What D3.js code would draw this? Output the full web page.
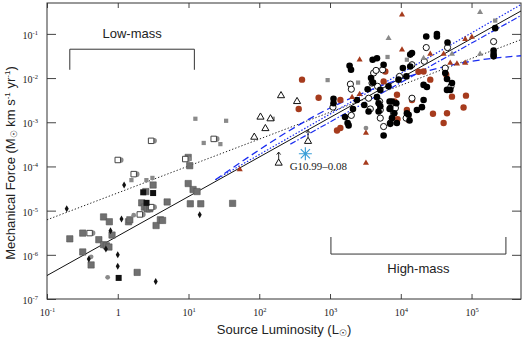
<!DOCTYPE html>
<html>
<head>
<meta charset="utf-8">
<script src="https://d3js.org/d3.v7.min.js"></script>
<style>
body { margin: 0; background: #fff; }
text { fill: #222; }
</style>
</head>
<body>
<svg width="525" height="343"></svg>
<script>
// ---- data : [luminosity (Lsun), force (Msun km/s/yr)] ----
var blackCircles = [[1890,0.019],[1980,0.0154],[1120,3.4e-3],[1120,2.7e-3],[1630,1.31e-3],[1770,9.6e-4],[1830,8.5e-4],
  [2110,2.0e-3],[2400,3.2e-3],[3400,5.6e-3],[3510,1.75e-3],[4000,0.026],[4610,0.028],[4050,7.9e-3],[4610,3.7e-3],
  [4860,1.75e-3],[3050,2.45e-3],[3800,0.01],[5130,5.4e-3],[9300,9.2e-3],[10700,0.0168],[12000,0.0109],[7500,2.96e-3],
  [7100,2.1e-3],[8800,9.6e-4],[4860,2.7e-3],[6700,6.5e-3],[22900,0.087],[32400,0.099],[32400,0.087],[45800,0.064],
  [216000,0.135],[205000,0.042],[205000,0.035],[205000,0.031],[14400,0.037],[42500,0.013],[45000,9.5e-3],[52900,7.7e-3],
  [21000,7.0e-3],[23400,6.3e-3],[13600,0.0183],[13600,0.034],[5130,2.3e-3],[5720,5.0e-4],[6950,2.0e-3],[7500,1.24e-3],
  [7100,9.2e-4],[8100,1.6e-3],[8640,2.7e-3],[12200,1.6e-3],[12900,1.48e-3],[13300,1.1e-3],[16900,1.9e-3],[19900,2.2e-3],
  [6950,2.96e-3],[50000,5.4e-3],[45000,5.4e-3],[21000,3.2e-3],[5720,0.02]];
var openCircles = [[1940,7.3e-3],[2000,5.6e-3],[1100,2.2e-3],[2000,1.43e-3],[4130,0.013],[4470,0.0149],[4700,6.5e-3],
  [3710,2.0e-3],[3510,3.5e-3],[5020,2.96e-3],[5530,0.0154],[3920,7.7e-3],[9600,0.0109],[7900,1.6e-3],[7100,9.6e-4],
  [5720,8.0e-4],[5130,1.9e-3],[22900,0.049],[45800,0.049],[205000,0.067],[14400,0.02],[21500,0.024],[42500,0.0168],
  [51200,6.5e-3],[5130,1.24e-3],[8400,2.1e-3],[11900,1.24e-3],[14400,3.5e-3]];
var redCircles = [[402,9.2e-3],[690,3.6e-3],[361,2.0e-3],[1400,3.2e-3],[1255,6.5e-4],[1400,7.4e-4],[8840,4.2e-3],
  [12200,1.9e-3],[12900,1.14e-3],[8170,2.96e-3],[5720,8.4e-3],[21000,0.0141],[26100,9.2e-3],[43900,0.0119],[9010,1.18e-3],
  [28500,1.56e-3],[45000,1.6e-3],[77100,2.16e-3],[40300,9.6e-4],[14400,3.2e-3],[83400,4.0e-3],[52900,3.8e-3],
  [6040,0.0141],[17800,0.0139]];
var redTriangles = [[53,8.5e-5],[3220,5.7e-4],[3220,1.19e-4],[2620,0.026],[2050,3.7e-3],[2620,4.3e-3],[10400,0.27],
  [10400,0.044],[81500,0.076],[101000,0.085],[26100,0.035],[40300,0.035],[50000,0.0218],[62200,0.021],[81500,0.0218]];
var greyTriangles = [[132000,0.31],[6720,0.08],[21000,0.028],[52900,0.035],[132000,0.035]];
var greySmall = [[925,9.0e-3],[2490,7.9e-3],[155,1.2e-3],[216000,0.2],[12200,0.026],[6500,0.03],[1.56,4.9e-5],
  [2.54,4.9e-5],[3.09,5.5e-5],[12.5,1.2e-3],[34,1.08e-3],[16.4,3.4e-4],[28.2,3.2e-4]];
var greyCircles = [[0.42,9e-7],[0.72,3.1e-7],[1.68,7.9e-6],[3.06,1.25e-5],[3220,7.4e-4]];
var greySquares = [[0.21,2.3e-6],[0.32,3.1e-6],[0.32,1.16e-6],[0.42,5.9e-7],[0.54,2.2e-6],[0.63,1.7e-6],[0.69,1.6e-6],
  [0.63,7.2e-6],[0.76,5.6e-6],[0.83,2.8e-6],[0.75,1.5e-6],[1.42,5.6e-6],[1.48,6.2e-6],[2.18,1.5e-5],[2.49,2.7e-5],
  [2.38,1.2e-5],[2.6,1.09e-5],[2.83,1.1e-5],[3.48,4.6e-6],[4.0,6.2e-6],[4.3,6.0e-6],[4.99,1.57e-5],[1.88,4e-7],
  [3.16,3.8e-5],[9.9,4.1e-5],[11.6,3.0e-5],[13.2,2.7e-5],[10.6,1.43e-5],[14.9,1.43e-5],[42,1.46e-5],[10.4,1.04e-4],[9.9,1.6e-4]];
var blackSquares = [[1.03,3.0e-7],[2.29,2.6e-5],[3.16,2.5e-5],[2.55,1.5e-5]];
var blackDiamonds = [[0.19,1.1e-5],[0.39,8e-7],[0.79,3.5e-6],[0.68,1.35e-6],[1.0,1.0e-6],[1.0,5.5e-7],[1.13,6.5e-6],
  [1.23,3.8e-5],[3.44,2.5e-7],[14.4,8.1e-6]];
var openSquares = [[0.40,3.1e-6],[1.68,6.7e-5],[2.05,8.2e-6],[2.96,3.8e-4],[1.0,1.4e-4],[9.0,1.47e-4],[22.7,4.2e-4],[2.96,1.2e-5]];
var openTriangles = [[203,4.0e-3],[342,2.95e-3],[104,1.31e-3],[144,1.2e-3],[122,7.2e-4],[85,4.6e-4]];
var limitTriangles = [[489,3.7e-4],[188,1.19e-4]];
var g1099 = [448,1.94e-4];

// fits (end points)
var fitAll = [[0.1,3.4e-7],[5e5,0.33]];
var fitLow = [[0.1,6.2e-6],[5e5,0.074]];
var fitHighA = [[24,5.0e-5],[5e5,0.46]];
var fitHighB = [[275,3.2e-4],[5e5,0.26]];
var fitHighC = [[24,5.0e-5],[1e3,2.1e-3],[1e4,9.6e-3],[1e5,0.024],[5e5,0.032]];

var xTicks = [0.1,1,10,100,1e3,1e4,1e5];
var yTicks = [1e-7,1e-6,1e-5,1e-4,1e-3,1e-2,1e-1];

var svg = d3.select("svg"),
    pL = 47, pR = 521, pT = 3, pB = 299;

var x = d3.scaleLog().domain([0.1, 5e5]).range([pL, pR]);
var y = d3.scaleLog().domain([1e-7, 0.5]).range([pB, pT]);

var serif = "'Liberation Serif', 'Times New Roman', serif",
    sans = "'Liberation Sans', Arial, Helvetica, sans-serif";

// power-of-ten label
function powLabel(sel, v) {
  var e = Math.round(Math.log10(v));
  sel.text(null);
  if (e === 0) { sel.append("tspan").text("1"); return; }
  sel.append("tspan").text("10");
  sel.append("tspan").attr("dy", -4).attr("font-size", 6.5).text(e < 0 ? "-" + (-e) : e);
}

// axes (inward ticks)
var xAxis = svg.append("g").attr("transform", "translate(0," + pB + ")")
  .call(d3.axisBottom(x).tickValues(xTicks).tickSizeInner(-5).tickSizeOuter(0).tickPadding(10));
var yAxis = svg.append("g").attr("transform", "translate(" + pL + ",0)")
  .call(d3.axisLeft(y).tickValues(yTicks).tickSizeInner(-9).tickSizeOuter(0).tickPadding(9));
svg.append("g").attr("transform", "translate(0," + pT + ")")
  .call(d3.axisTop(x).tickValues(xTicks).tickSizeInner(-5).tickSizeOuter(0).tickFormat(""));
svg.append("g").attr("transform", "translate(" + pR + ",0)")
  .call(d3.axisRight(y).tickValues(yTicks).tickSizeInner(-9).tickSizeOuter(0).tickFormat(""));
svg.selectAll(".domain").remove();
svg.selectAll(".tick line").attr("stroke", "#444");

xAxis.selectAll("text").attr("font-family", serif).attr("font-size", 10).attr("fill", "#222")
  .each(function (d) { powLabel(d3.select(this), d); });
yAxis.selectAll("text").attr("font-family", serif).attr("font-size", 10).attr("fill", "#222")
  .attr("dy", "0.45em")
  .each(function (d) { powLabel(d3.select(this), d); });

// frame
svg.append("rect").attr("x", pL).attr("y", pT).attr("width", pR - pL).attr("height", pB - pT)
  .attr("fill", "none").attr("stroke", "#333").attr("stroke-width", 1);

var g = svg.append("g");

// fit lines
var line = d3.line().x(function (d) { return x(d[0]); }).y(function (d) { return y(d[1]); });
var curve = d3.line().curve(d3.curveMonotoneX).x(function (d) { return x(d[0]); }).y(function (d) { return y(d[1]); });
g.append("path").datum(fitAll).attr("d", line).attr("fill", "none").attr("stroke", "#111").attr("stroke-width", 1);
g.append("path").datum(fitLow).attr("d", line).attr("fill", "none").attr("stroke", "#222").attr("stroke-width", 1)
  .attr("stroke-dasharray", "1.3,2");
g.append("path").datum(fitHighA).attr("d", line).attr("fill", "none").attr("stroke", "#1a2cf0").attr("stroke-width", 1.2)
  .attr("stroke-dasharray", "1.5,1.8");
g.append("path").datum(fitHighB).attr("d", line).attr("fill", "none").attr("stroke", "#1a2cf0").attr("stroke-width", 1.2)
  .attr("stroke-dasharray", "6,2,1.5,2");
g.append("path").datum(fitHighC).attr("d", curve).attr("fill", "none").attr("stroke", "#1a2cf0").attr("stroke-width", 1.3)
  .attr("stroke-dasharray", "7,4");

// marker helpers
function sym(data, type, size, fill, stroke, sw) {
  g.append("g").selectAll("path").data(data).enter().append("path")
    .attr("transform", function (d) { return "translate(" + x(d[0]) + "," + y(d[1]) + ")"; })
    .attr("d", d3.symbol().type(type).size(size))
    .attr("fill", fill).attr("stroke", stroke || "none").attr("stroke-width", sw || 0);
}
function dots(data, r, fill, stroke, sw, dx) {
  g.append("g").selectAll("circle").data(data).enter().append("circle")
    .attr("cx", function (d) { return x(d[0]) + (dx || 0); }).attr("cy", function (d) { return y(d[1]); })
    .attr("r", r).attr("fill", fill).attr("stroke", stroke || "none").attr("stroke-width", sw || 0);
}

// low-mass sample
sym(greySquares, d3.symbolSquare, 40, "#707070", "#555", 0.6);
sym(greySmall, d3.symbolSquare, 18, "#8a8a8a");
dots(greyCircles, 2.4, "#8a8a8a");
// open square with a grey circle behind it
dots(openSquares, 2.8, "#8a8a8a", null, 0, 3);
sym(openSquares, d3.symbolSquare, 30, "#fff", "#444", 1);
sym(blackSquares, d3.symbolSquare, 36, "#111");
sym(blackDiamonds, d3.symbolDiamond, 14, "#111");

// intermediate / high-mass sample
dots(redCircles, 3.2, "#a63b1d");
dots(openCircles, 3.1, "#fff", "#111", 1);
dots(blackCircles, 3.3, "#000");
sym(redTriangles, d3.symbolTriangle, 16, "#a63b1d");
sym(greyTriangles, d3.symbolTriangle, 16, "#8a8a8a");
sym(openTriangles, d3.symbolTriangle, 22, "#fff", "#111", 1);
sym(limitTriangles, d3.symbolTriangle, 22, "#fff", "#111", 1);

// lower-limit arrows
g.append("g").selectAll("path").data(limitTriangles).enter().append("path")
  .attr("transform", function (d) { return "translate(" + x(d[0]) + "," + y(d[1]) + ")"; })
  .attr("d", "M0,-4V-11M-2,-8.5L0,-11L2,-8.5")
  .attr("fill", "none").attr("stroke", "#111").attr("stroke-width", 0.9);

// G10.99-0.08 asterisk
var ax = x(g1099[0]), ay = y(g1099[1]);
g.append("path")
  .attr("d", d3.range(4).map(function (i) {
    var a = i * Math.PI / 4, dx = 6.5 * Math.cos(a), dy = 6.5 * Math.sin(a);
    return "M" + (ax - dx) + "," + (ay - dy) + "L" + (ax + dx) + "," + (ay + dy);
  }).join(""))
  .attr("stroke", "#3a9fd8").attr("stroke-width", 1.2);
svg.append("text").attr("x", ax + 13).attr("y", ay + 16).attr("text-anchor", "middle")
  .attr("font-family", serif).attr("font-size", 11).text("G10.99\u20130.08");

// Low-mass / High-mass brackets
function bracket(x0, x1, yl, ye, label, ly) {
  svg.append("path")
    .attr("d", "M" + x(x0) + "," + y(ye) + "V" + y(yl) + "H" + x(x1) + "V" + y(ye))
    .attr("fill", "none").attr("stroke", "#333").attr("stroke-width", 1);
  svg.append("text").attr("x", (x(x0) + x(x1)) / 2).attr("y", y(ly)).attr("text-anchor", "middle")
    .attr("font-family", sans).attr("font-size", 13).text(label);
}
bracket(0.21, 12.1, 0.045, 0.0154, "Low-mass", 0.082);
bracket(1030, 306000, 1.04e-6, 2.53e-6, "High-mass", 3.9e-7);

// axis titles
var xt = svg.append("text").attr("x", 284).attr("y", 334).attr("text-anchor", "middle")
  .attr("font-family", sans).attr("font-size", 13);
xt.append("tspan").text("Source Luminosity (L");
xt.append("tspan").attr("font-size", 9).attr("dy", 2).text("\u2609");
xt.append("tspan").attr("dy", -2).text(")");

var yt = svg.append("text").attr("transform", "translate(15,163) rotate(-90)").attr("text-anchor", "middle")
  .attr("font-family", sans).attr("font-size", 13);
yt.append("tspan").text("Mechanical Force (M");
yt.append("tspan").attr("font-size", 9).attr("dy", 2).text("\u2609");
yt.append("tspan").attr("dy", -2).text(" km s");
yt.append("tspan").attr("font-size", 8).attr("dy", -5).text("-1");
yt.append("tspan").attr("dy", 5).text(" yr");
yt.append("tspan").attr("font-size", 8).attr("dy", -5).text("-1");
yt.append("tspan").attr("dy", 5).text(")");
</script>
</body>
</html>
